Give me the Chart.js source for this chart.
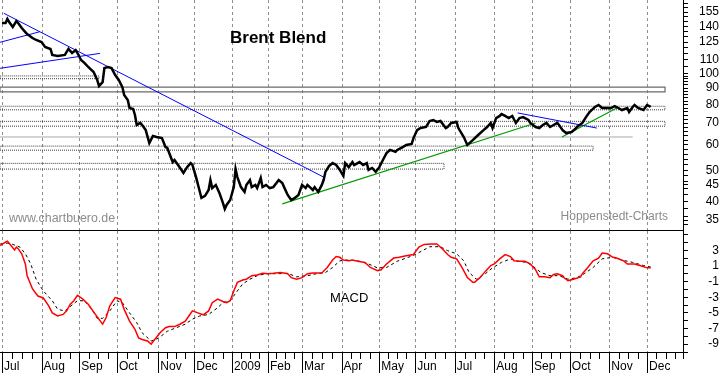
<!DOCTYPE html>
<html><head><meta charset="utf-8">
<script src="https://cdn.jsdelivr.net/npm/chart.js@4.4.1/dist/chart.umd.min.js"></script>
<style>
html,body{margin:0;padding:0;background:#fff;}
#wrap{position:relative;width:723px;height:373px;overflow:hidden;font-family:"Liberation Sans",Arial,sans-serif;}
#top{position:absolute;left:0;top:0;width:723px;height:230px;}
#bot{position:absolute;left:0;top:230px;width:723px;height:143px;}
.t{position:absolute;white-space:nowrap;}
</style></head><body>
<div id="wrap">
<canvas id="top" width="723" height="230"></canvas>
<canvas id="bot" width="723" height="143"></canvas>
<div class="t" style="left:230px;top:29px;font-size:17px;line-height:17px;font-weight:bold;color:#000;">Brent Blend</div>
<div class="t" style="left:9px;top:212px;font-size:12.4px;line-height:12.4px;color:#8c8c8c;">www.chartbuero.de</div>
<div class="t" style="right:55px;top:210px;font-size:12px;line-height:12px;color:#8c8c8c;">Hoppenstedt-Charts</div>
<div class="t" style="left:330px;top:291px;font-size:13px;line-height:13px;color:#000;">MACD</div>
</div>
<script>
// ---- data (x = trading day index since 1 Jul 2008) ----
const monthDays   = [0,22,43,64,87,107,128,148,167,189,210,230,252,274,295,316,338,359];
const monthLabels = ['Jul','Aug','Sep','Oct','Nov','Dec','2009','Feb','Mar','Apr','May','Jun','Jul','Aug','Sep','Oct','Nov','Dec'];

const priceDays = [
 0,2,3,4,6,8,9,11,13,14,
 17,19,22,24,27,28,31,35,37,39,
 41,42,44,46,48,51,53,54,56,57,
 59,61,63,65,67,68,70,71,73,74,
 75,77,78,80,82,84,86,89,91,92,
 95,96,98,101,103,105,106,108,111,113,
 115,116,117,119,121,123,124,125,127,129,
 130,131,133,135,136,138,139,141,142,144,
 145,147,149,151,154,156,157,159,161,163,
 165,167,169,170,173,174,176,178,179,180,
 182,184,186,188,190,191,193,195,196,199,
 201,203,204,206,208,210,212,214,216,219,
 220,223,225,228,229,231,233,236,238,240,
 242,244,247,248,250,253,254,257,259,262,
 265,268,270,272,273,275,277,278,280,282,
 284,286,288,290,293,294,297,299,301,303,
 305,307,309,310,312,314,317,319,320,323,
 325,327,330,332,334,337,339,341,343,345,
 348,349,351,352,354,357,359,361];
const priceValues = [
 143.3,143.3,147.4,144.3,139.2,145.3,143.3,138.2,134.3,132.4,
 128.7,126.9,125.1,120.7,119.0,114.0,113.1,114.0,119.0,115.6,
 118.1,115.6,110.0,107.6,104.6,100.9,95.3,91.3,93.9,103.8,
 104.6,103.8,98.8,95.3,90.6,85.6,82.6,78.0,77.5,74.2,
 69.1,70.1,69.1,66.6,60.7,63.9,63.4,62.9,59.0,58.6,
 53.0,53.8,51.9,49.0,51.1,52.6,51.9,47.6,41.0,41.6,
 43.4,46.6,44.0,45.0,42.5,39.5,37.9,39.0,40.4,44.3,
 50.4,47.6,44.3,42.8,45.0,46.6,44.3,45.0,44.0,47.3,
 44.3,45.0,44.0,44.3,46.6,45.6,44.3,41.9,40.4,41.0,
 41.9,45.0,44.0,45.0,43.4,44.3,42.8,45.0,46.6,49.4,
 51.5,52.6,51.9,50.1,48.0,52.6,51.1,53.0,51.9,53.0,
 51.9,52.6,50.1,50.8,49.4,51.1,53.8,56.5,57.8,57.0,
 57.8,59.0,59.9,60.3,62.9,66.6,67.6,68.1,71.1,71.6,
 70.6,71.1,67.6,68.1,70.1,70.6,67.6,63.4,59.9,62.0,
 64.3,66.6,68.1,70.1,67.6,72.6,73.7,74.7,73.7,72.6,
 73.7,70.1,72.6,73.1,71.6,70.1,68.1,67.6,69.1,70.1,
 68.1,69.1,70.1,69.1,66.6,65.2,65.7,67.1,68.1,70.1,
 73.1,75.8,78.6,79.7,78.0,78.0,78.0,79.1,78.0,76.9,
 78.0,75.8,78.6,79.7,78.0,76.9,79.7,78.6];

const priceLabels = [35,40,45,50,60,70,80,90,100,110,125,140,155];
const priceMinorTicks = [34,36,38,42,44,46,48,52,54,56,58,62,64,66,68,72,74,76,78,82,84,86,88,92,94,96,98,105,115,120,130,135,145,150,160,165];

// trend lines: [startDay, endDay] / [startPrice, endPrice]
const blueTrendDays   = [[1,179],[-1.1,21],[-1.1,54.5],[287,331]];
const blueTrendPrices = [[153.6,47.6],[124.8,134.6],[103.6,115.3],[75.3,67.6]];
const greenTrendDays   = [[156,297],[311.6,342.2]];
const greenTrendPrices = [[39.3,70.1],[63.4,78.0]];

// support / resistance bands
const bandStartDay = -1.1;
const bandEndDays = [369,369,369,329,246,54];
const bandLows    = [87.6,77.0,68.5,57.7,50.4,96.2];
const bandHighs   = [90.6,79.0,70.9,59.4,52.5,98.1];
const refLinePrice = 63.4;
const refLineEndDay = 351;

// MACD
const macdDays = [
 -1,1,3,4,7,8,9,11,13,14,
 17,20,23,26,28,31,34,36,38,40,
 42,45,48,52,56,58,60,63,66,68,
 71,74,76,78,81,83,85,88,91,93,
 96,99,102,104,106,109,112,115,117,120,
 123,125,127,129,131,134,136,139,142,145,
 148,151,155,159,161,164,167,170,173,175,
 178,181,184,186,188,190,193,195,198,202,
 205,209,211,214,218,221,225,229,232,235,
 239,242,245,248,250,253,256,259,262,263,
 266,269,272,274,277,280,283,285,288,291,
 294,297,299,302,305,307,309,312,313,315,
 318,322,323,326,329,332,334,337,340,342,
 346,348,352,355,359,361];
const macdValues = [
 3.6,3.9,4.15,3.9,3.05,3.4,3.2,2.55,1.25,-0.25,
 -1.95,-2.85,-3.1,-4.1,-5.0,-5.4,-5.2,-4.75,-3.9,-3.45,
 -2.75,-3.25,-3.9,-5.2,-6.45,-5.6,-4.1,-3.05,-3.25,-4.55,
 -6.05,-7.1,-8.2,-8.4,-8.6,-9.0,-8.4,-7.55,-6.9,-6.75,
 -6.75,-6.45,-6.05,-5.4,-4.75,-5.0,-5.25,-4.75,-3.7,-3.25,
 -3.55,-3.7,-3.45,-2.2,-1.1,-0.8,-0.7,-0.25,-0.15,0.05,
 0.0,0.05,0.15,0.0,-0.5,-0.7,-0.5,0.0,0.1,0.1,
 0.1,0.8,1.75,2.2,2.1,1.75,1.65,1.75,1.6,1.45,
 0.8,0.4,0.5,1.25,2.0,2.1,2.3,2.45,3.4,3.75,
 3.8,3.8,3.2,2.45,2.1,1.9,0.8,-0.5,-1.1,-1.1,
 -0.5,0.3,1.05,1.25,1.9,2.45,2.2,1.65,1.6,1.6,
 1.25,0.5,-0.4,-0.4,-0.5,-0.1,0.0,-0.25,-0.55,-0.9,
 -0.7,-0.4,0.0,0.8,1.65,2.0,2.65,2.55,2.1,2.0,
 1.65,1.25,1.25,1.05,0.75,0.75];
const signalDays = [
 -1,3,6,10,13,16,19,23,28,31,
 35,39,42,46,50,53,56,60,64,67,
 71,75,78,83,87,92,97,102,106,110,
 115,120,123,127,131,134,138,142,147,153,
 159,164,170,175,180,184,188,192,198,204,
 209,214,220,225,230,234,238,244,248,253,
 257,260,264,269,273,278,283,287,292,295,
 300,305,310,315,320,324,329,334,340,345,
 351,357,362];
const signalValues = [
 3.8,3.9,3.75,3.4,2.55,1.25,-0.7,-2.2,-3.45,-4.55,
 -4.75,-4.0,-3.45,-3.45,-4.55,-5.7,-5.7,-4.75,-3.45,-3.7,
 -5.0,-6.25,-7.55,-8.6,-8.25,-7.35,-6.9,-6.45,-5.8,-5.4,
 -5.2,-4.35,-3.7,-3.45,-2.2,-1.3,-0.7,-0.25,0.0,0.0,
 0.05,-0.4,-0.25,0.0,0.15,0.8,1.65,1.75,1.65,1.25,
 0.75,0.8,1.6,2.0,2.45,2.95,3.45,3.45,2.95,2.55,
 1.65,0.15,-0.7,0.0,0.75,1.45,1.9,1.6,1.45,1.05,
 0.15,-0.25,-0.25,-0.7,-0.5,0.0,0.8,1.9,2.1,1.75,
 1.45,1.05,0.8];
const macdTickLabels = [-9,-7,-5,-3,-1,1,3];
const macdTicks = [-10,-9,-8,-7,-6,-5,-4,-3,-2,-1,0,1,2,3,4,5];

// ---- build ----
const FONT = '"Liberation Sans", Arial, sans-serif';
const X_MIN = -1.1, X_MAX = 379;
function pts(xs, ys){ return xs.map((x,i)=>({x:x, y:ys[i]})); }
function lineDs(data, color, width, dash){
  return {data:data, borderColor:color, borderWidth:width, borderDash:dash||[], pointRadius:0, fill:false, tension:0};
}

// dashed monthly grid, drawn through the x scale
const monthGrid = {
  id:'monthGrid',
  beforeDatasetsDraw(chart){
    const ctx = chart.ctx, xs = chart.scales.x, a = chart.chartArea;
    ctx.save();
    ctx.strokeStyle = '#8e8e8e'; ctx.lineWidth = 1; ctx.setLineDash([3,3]);
    ctx.beginPath();
    monthDays.forEach(d=>{
      const x = Math.round(xs.getPixelForValue(d)) + 0.5;
      ctx.moveTo(x, a.top); ctx.lineTo(x, a.bottom);
    });
    ctx.stroke();
    ctx.restore();
  }
};

const upperSets = [];
upperSets.push(lineDs(pts(priceDays, priceValues), '#000000', 2.5));
blueTrendDays.forEach((d,i)=>upperSets.push(lineDs(pts(d, blueTrendPrices[i]), '#0000ff', 1)));
greenTrendDays.forEach((d,i)=>upperSets.push(lineDs(pts(d, greenTrendPrices[i]), '#009a00', 1.2)));
bandEndDays.forEach((e,i)=>{
  const s = bandStartDay, lo = bandLows[i], hi = bandHighs[i];
  const box = [{x:s,y:lo},{x:e,y:lo},{x:e,y:hi},{x:s,y:hi},{x:s,y:lo}];
  if (i === 0) upperSets.push(lineDs(box, '#6a6a6a', 1.2));
  else upperSets.push(lineDs(box, '#3c3c3c', 1, [1,1]));
});
upperSets.push(lineDs([{x:bandStartDay,y:refLinePrice},{x:refLineEndDay,y:refLinePrice}], '#c4c4c4', 1.5));

const priceTicks = priceLabels.concat(priceMinorTicks).sort((a,b)=>a-b);

new Chart(document.getElementById('top'), {
  type:'line',
  data:{datasets:upperSets},
  options:{
    responsive:false, animation:false, events:[],
    layout:{padding:{left:0,right:4,top:0,bottom:0}},
    plugins:{legend:{display:false}, tooltip:{enabled:false}},
    scales:{
      x:{type:'linear', min:X_MIN, max:X_MAX,
        afterBuildTicks:s=>{ s.ticks = monthDays.map(v=>({value:v})); },
        ticks:{display:false},
        grid:{display:false},
        border:{display:false},
        afterFit:s=>{ s.height=0; s.paddingLeft=0; s.paddingRight=0; }
      },
      y:{type:'logarithmic', position:'right', min:32.6, max:168.9,
        afterBuildTicks:s=>{ s.ticks = priceTicks.map(v=>({value:v})); },
        ticks:{autoSkip:false, crossAlign:'far', color:'#000', font:{family:FONT, size:12},
          callback:v=>priceLabels.includes(v) ? String(v) : ''},
        grid:{drawOnChartArea:false, drawTicks:true, tickLength:5, color:'#000'},
        border:{display:true, color:'#000', width:1},
        afterFit:s=>{ s.width=36; s.paddingTop=0; s.paddingBottom=0; }
      }
    }
  },
  plugins:[monthGrid]
});

const lowerDecor = {
  id:'lowerDecor',
  afterDraw(chart){
    const ctx = chart.ctx, xs = chart.scales.x, a = chart.chartArea;
    ctx.save();
    ctx.strokeStyle = '#000'; ctx.lineWidth = 1; ctx.setLineDash([]);
    ctx.beginPath();
    ctx.moveTo(0, 0.5); ctx.lineTo(a.right + 1, 0.5);
    ctx.moveTo(0, a.bottom + 0.5); ctx.lineTo(a.right + 1, a.bottom + 0.5);
    const px = v => Math.round(xs.getPixelForValue(v)) + 0.5;
    monthDays.forEach(d=>{ const x = px(d); ctx.moveTo(x, a.bottom); ctx.lineTo(x, chart.height); });
    const next = monthDays.concat([380]);
    for (let i = 0; i < monthDays.length; i++) {
      for (let k = 1; k <= 3; k++) {
        const v = next[i] + (next[i+1] - next[i]) * k / 4;
        if (v >= X_MAX) continue;
        const x = px(v);
        ctx.moveTo(x, a.bottom); ctx.lineTo(x, a.bottom + 7);
      }
    }
    ctx.moveTo(a.right + 0.5, a.bottom); ctx.lineTo(a.right + 0.5, a.bottom + 7);
    ctx.stroke();
    ctx.restore();
  }
};

new Chart(document.getElementById('bot'), {
  type:'line',
  data:{datasets:[
    lineDs(pts(macdDays, macdValues), '#ff0000', 1.5),
    lineDs(pts(signalDays, signalValues), '#000000', 1, [3,3])
  ]},
  options:{
    responsive:false, animation:false, events:[],
    layout:{padding:{left:0,right:4,top:1,bottom:0}},
    plugins:{legend:{display:false}, tooltip:{enabled:false}},
    scales:{
      x:{type:'linear', min:X_MIN, max:X_MAX,
        afterBuildTicks:s=>{ s.ticks = monthDays.map(v=>({value:v})); },
        ticks:{autoSkip:false, maxRotation:0, minRotation:0, align:'start', labelOffset:2, padding:7,
          color:'#000', font:{family:FONT, size:12},
          callback:(v,i)=>monthLabels[i]},
        grid:{display:false, drawTicks:false},
        border:{display:false},
        afterFit:s=>{ s.height=21; s.paddingLeft=0; s.paddingRight=0; }
      },
      y:{type:'linear', position:'right', min:-10.0, max:5.46,
        afterBuildTicks:s=>{ s.ticks = macdTicks.map(v=>({value:v})); },
        ticks:{autoSkip:false, crossAlign:'far', color:'#000', font:{family:FONT, size:12},
          callback:v=>macdTickLabels.includes(v) ? String(v) : ''},
        grid:{drawOnChartArea:false, drawTicks:true, tickLength:5, color:'#000'},
        border:{display:true, color:'#000', width:1},
        afterFit:s=>{ s.width=36; s.paddingTop=0; s.paddingBottom=0; }
      }
    }
  },
  plugins:[monthGrid, lowerDecor]
});
</script>
</body></html>
